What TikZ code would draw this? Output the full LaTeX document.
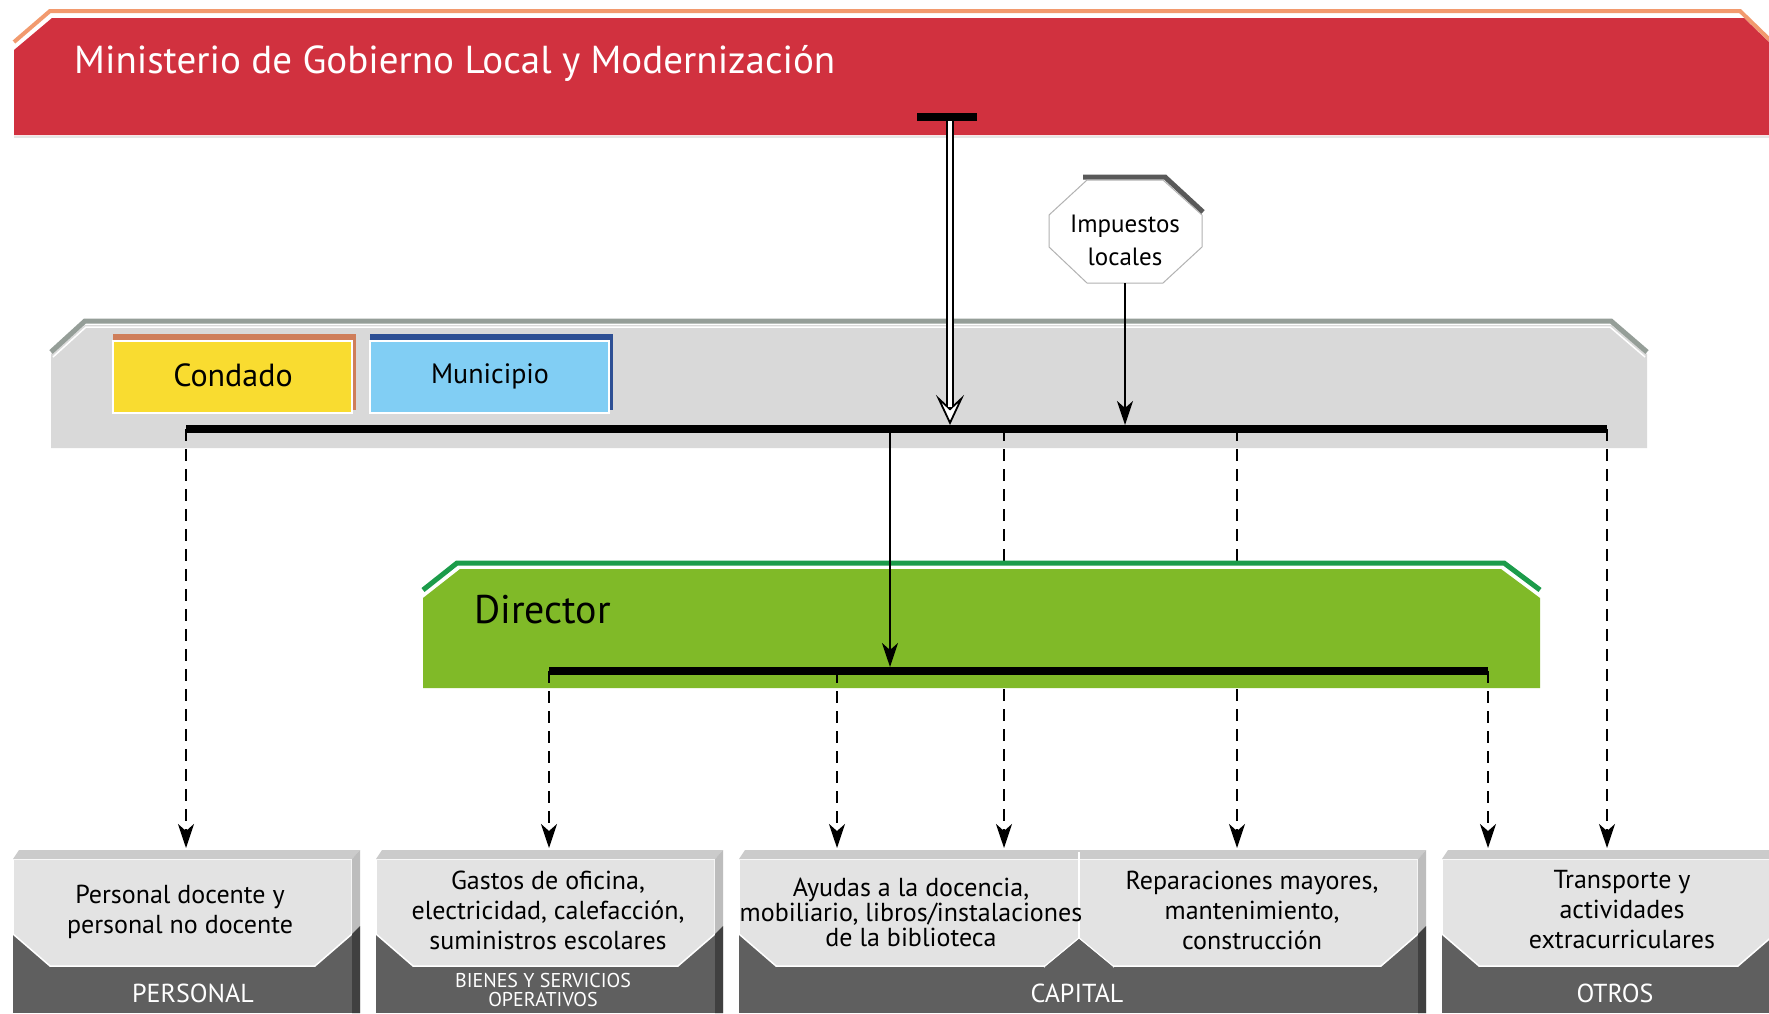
\documentclass[tikz,border=0pt]{standalone}
\usepackage{fontspec}
\setmainfont{PT Sans}
\usepackage{tikz}
\usetikzlibrary{arrows.meta,positioning}
\definecolor{redx}{HTML}{D1313F}
\definecolor{orangex}{HTML}{F29A6E}
\definecolor{panelgray}{HTML}{D9D9D9}
\definecolor{panelline}{HTML}{959E98}
\definecolor{condy}{HTML}{F9DC30}
\definecolor{condbrd}{HTML}{CF7E5A}
\definecolor{munib}{HTML}{81CEF4}
\definecolor{munibrd}{HTML}{2D4F94}
\definecolor{greenx}{HTML}{80BA28}
\definecolor{greenbrd}{HTML}{1C9C4A}
\definecolor{boxlight}{HTML}{E3E3E3}
\definecolor{boxdark}{HTML}{5F5F5F}
\definecolor{boxtop}{HTML}{CBCBCB}
\definecolor{boxside}{HTML}{BDBDBD}
\definecolor{boxsidedk}{HTML}{404040}
\tikzset{
  ar/.style={-{Stealth[length=24pt,width=16pt,inset=7pt]},line width=2.4pt,black},
  dar/.style={ar,dash pattern=on 12pt off 8pt},
  dblline/.style={double=white,double distance=3.5pt,line width=1.8pt},
  openhead/.style={-{Stealth[open,fill=white,length=30pt,width=28pt,inset=13pt]},line width=1.8pt},
  bar/.style={line width=8pt,black},
  boxtxt/.style={font=\fontsize{26}{30}\selectfont,align=center,text=black,inner sep=0pt},
  lbl/.style={font=\fontsize{26}{28}\selectfont,text=white,inner sep=0pt}
}

\begin{document}
\begin{tikzpicture}[x=1pt,y=-1pt]
\clip (0,0) rectangle (1769,1013);
\fill[white] (0,0) rectangle (1769,1013);
% ministry banner
\draw[orangex,line width=4pt] (14,42) -- (50,11) -- (1740,11) -- (1775,45);
\fill[redx] (14,50) -- (52,18) -- (1744,18) -- (1775,48) -- (1775,135) -- (14,135) -- cycle;
\draw[gray!20,line width=2pt] (14,137) -- (1769,137);
\node[anchor=west,text=white,font=\fontsize{39}{44}\selectfont,inner sep=0pt] (mini) at (74,63) {Ministerio de Gobierno Local y Modernización};
\fill[black] (917,113) rectangle (977,121);
\coordinate (miniOut) at (950,121);

% local taxes
\draw[gray!70!black,line width=5pt] (1083,177) -- (1165,177) -- (1203,212);
\filldraw[fill=white,draw=gray!60,line width=1pt] (1087,180) -- (1163,180) -- (1202,215) -- (1202,247) -- (1163,283) -- (1087,283) -- (1049,247) -- (1049,215) -- cycle;
\node[boxtxt,font=\fontsize{25}{33}\selectfont] (tax) at (1125,240) {Impuestos\\locales};
\coordinate (taxOut) at (1125,283);

% county / municipality panel
\fill[panelgray] (51,354) -- (85,325) -- (1611,325) -- (1647,354) -- (1647,448) -- (51,448) -- cycle;
\draw[panelline,line width=5pt] (51,352) -- (85,321) -- (1611,321) -- (1647,352);
\draw[white,line width=1.5pt] (53,357) -- (86,327) -- (1610,327) -- (1645,357);
\fill[condbrd] (113,334) rectangle (356,410);
\filldraw[fill=condy,draw=white,line width=2pt] (113,341) rectangle (352,413);
\node[font=\fontsize{32}{36}\selectfont] (cond) at (233,375) {Condado};
\fill[munibrd] (370,334) rectangle (613,410);
\filldraw[fill=munib,draw=white,line width=2pt] (370,341) rectangle (609,413);
\node[font=\fontsize{28}{32}\selectfont] (muni) at (490,376) {Municipio};

\coordinate (bar1L) at (186,429);
\coordinate (bar1R) at (1607,429);
\coordinate (bar1D) at (890,429);
\coordinate (bar1a) at (1004,429);
\coordinate (bar1b) at (1237,429);
\coordinate (bar1Min) at (950,425);
\coordinate (minHead) at (950,395);
\coordinate (minNotch) at (950,407);
\coordinate (bar1Tax) at (1125,425);

% cost boxes
\foreach \xl/\xr in {13/352,376/715,739/1418,1442/1775}{
  \fill[boxdark] (\xl,859) rectangle (\xr,1013);
  \filldraw[fill=boxlight,draw=white,line width=1.5pt] (\xl,859) -- (\xr,859) -- (\xr,934) -- ({\xr-37},966) -- ({\xl+37},966) -- (\xl,934) -- cycle;
  \fill[boxtop] (\xl,859) -- ({\xl+6},850) -- ({\xr+8},850) -- (\xr,859) -- cycle;
  \fill[boxside] (\xr,859) -- ({\xr+8},850) -- ({\xr+8},1013) -- (\xr,1013) -- cycle;
  \fill[boxsidedk] (\xr,934) -- ({\xr+8},926) -- ({\xr+8},1013) -- (\xr,1013) -- cycle;
}
\filldraw[fill=boxdark,draw=white,line width=1.5pt] (1044,967) -- (1079,938) -- (1114,967);
\fill[boxdark] (1045,967) -- (1079,939) -- (1113,967) -- cycle;
\draw[white,line width=1.5pt] (1079,852) -- (1079,938);

\node[boxtxt] (pers) at (180,912) {Personal docente y\\personal no docente};
\node[boxtxt] (bien) at (548,910) {Gastos de oficina,\\electricidad, calefacción,\\suministros escolares};
\node[boxtxt,font=\fontsize{26}{25}\selectfont] (ayud) at (911,912) {Ayudas a la docencia,\\mobiliario, libros/instalaciones\\de la biblioteca};
\node[boxtxt] (repa) at (1252,910) {Reparaciones mayores,\\mantenimiento,\\construcción};
\node[boxtxt] (trans) at (1622,910) {Transporte y\\actividades\\extracurriculares};
\node[lbl] (persL) at (193,993) {PERSONAL};
\node[lbl,font=\fontsize{20}{19}\selectfont,align=center] (bienL) at (543,990) {BIENES Y SERVICIOS\\OPERATIVOS};
\node[lbl] (capL) at (1077,993) {CAPITAL};
\node[lbl] (otrL) at (1615,993) {OTROS};

\coordinate (persTop) at (186,848);
\coordinate (bienTop) at (549,848);
\coordinate (ayudTop) at (837,848);
\coordinate (capTopA) at (1004,848);
\coordinate (capTopB) at (1237,848);
\coordinate (otrTopA) at (1488,848);
\coordinate (otrTopB) at (1607,848);

% dashed lines behind the director panel
\draw[dar] (bar1a) -- (capTopA);
\draw[dar] (bar1b) -- (capTopB);
\draw[dar] (bar1L) -- (persTop);
\draw[dar] (bar1R) -- (otrTopB);

% director panel
\draw[greenbrd,line width=5pt] (423,590) -- (457,563) -- (1504,563) -- (1540,590);
\fill[greenx] (423,598) -- (460,569) -- (1501,569) -- (1540,598) -- (1540,688) -- (423,688) -- cycle;
\draw[white,line width=1.5pt] (423,596) -- (459,568) -- (1502,568) -- (1540,596);
\node[anchor=west,font=\fontsize{40}{44}\selectfont,inner sep=0pt] (dir) at (474,610) {Director};

\coordinate (bar2L) at (549,671);
\coordinate (bar2R) at (1488,671);
\coordinate (bar2a) at (837,671);
\coordinate (bar2In) at (890,667);

\draw[dar] (bar2L) -- (bienTop);
\draw[dar] (bar2a) -- (ayudTop);
\draw[dar] (bar2R) -- (otrTopA);

\draw[bar] (bar1L) -- (bar1R);
\draw[bar] (bar2L) -- (bar2R);
\draw[ar] (bar1D) -- (bar2In);
\draw[ar] (taxOut) -- (bar1Tax);
\draw[openhead] (minHead) -- (bar1Min);
\draw[dblline] (miniOut) -- (minNotch);
\end{tikzpicture}
\end{document}
